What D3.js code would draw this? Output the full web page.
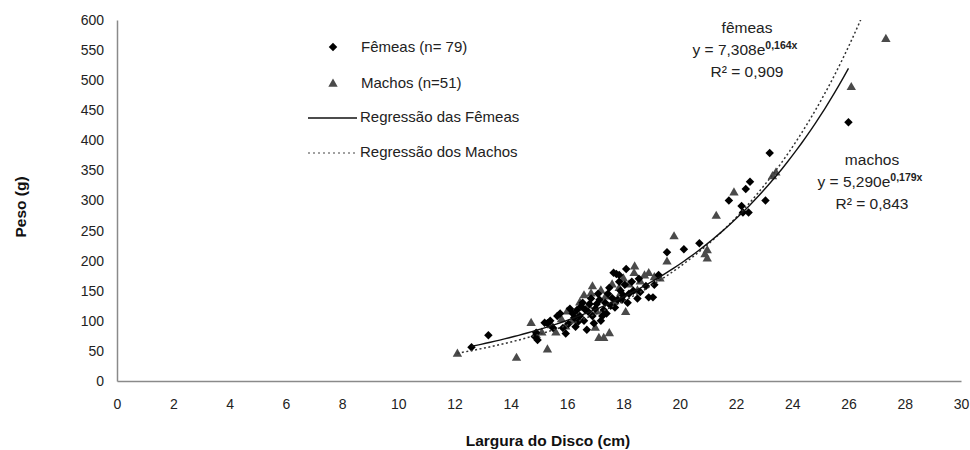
<!DOCTYPE html>
<html lang="pt">
<head>
<meta charset="utf-8">
<title>Peso x Largura do Disco</title>
<script src="https://cdn.jsdelivr.net/npm/d3@7"></script>
<style>
  body { margin: 0; background: #fff; }
  svg { font-family: "Liberation Sans", Arial, sans-serif; }
  .axis path { stroke: #8a8a8a; stroke-width: 1.5; }
  .axis text { font-size: 14px; fill: #222; }
</style>
</head>
<body>
<script>
// ticks
var xTicks = [0, 2, 4, 6, 8, 10, 12, 14, 16, 18, 20, 22, 24, 26, 28, 30];
var yTicks = [0, 50, 100, 150, 200, 250, 300, 350, 400, 450, 500, 550, 600];

// femeas: [largura (cm), peso (g)]
var femeas = [
  [12.6, 56], [13.2, 76], [14.85, 74], [14.95, 68], [15.2, 97], [15.3, 96], [15.4, 100],
  [15.65, 108], [15.75, 112], [15.95, 79], [16.05, 95], [16.2, 112], [16.25, 105], [16.35, 118],
  [16.4, 99], [16.5, 124], [16.55, 130], [16.6, 100], [16.7, 85], [16.75, 115], [16.85, 137],
  [16.9, 108], [17.0, 120], [17.05, 128], [17.15, 135], [17.2, 100], [17.3, 118], [17.4, 112],
  [17.45, 145], [17.55, 125], [17.6, 138], [17.65, 180], [17.75, 178], [17.8, 135], [17.85, 176],
  [17.9, 150], [17.95, 135], [18.05, 160], [18.1, 186], [18.2, 145], [18.3, 165], [18.5, 137],
  [18.55, 170], [18.9, 139], [19.05, 139], [19.1, 160], [19.25, 176], [19.55, 214], [20.15, 219],
  [20.7, 229], [21.75, 300], [22.2, 291], [22.25, 280], [22.35, 319], [22.45, 280], [22.5, 331],
  [23.05, 300], [23.2, 379], [26.0, 430], [15.85, 88], [16.1, 120], [16.3, 90], [16.45, 108],
  [16.65, 118], [16.95, 96], [17.1, 145], [17.35, 130], [17.5, 155], [17.7, 122], [18.0, 142],
  [18.15, 130], [18.35, 150], [17.25, 108], [16.8, 128], [15.5, 88], [18.6, 148], [18.8, 158],
  [14.9, 80], [17.85, 165]
];

// machos
var machos = [
  [12.1, 45], [14.2, 38], [14.72, 96], [15.1, 80], [15.3, 52], [15.6, 80], [15.95, 90],
  [16.6, 142], [16.9, 157], [17.0, 88], [17.13, 71], [17.3, 71], [17.5, 79], [17.37, 140],
  [17.85, 154], [18.08, 114], [18.4, 190], [18.38, 179], [18.9, 179], [19.55, 198], [19.8, 240],
  [20.98, 217], [20.98, 203], [21.3, 274], [21.93, 313], [23.42, 346], [26.1, 488], [27.33, 568],
  [16.2, 100], [16.45, 130], [16.75, 125], [17.2, 150], [17.6, 160], [17.7, 132], [18.0, 170],
  [18.2, 160], [18.6, 165], [19.1, 172], [16.0, 115], [15.8, 102], [17.9, 145], [18.5, 150],
  [19.3, 170], [20.9, 210], [16.3, 110], [17.05, 115], [15.45, 92], [18.75, 175], [23.3, 340],
  [16.85, 145], [14.9, 76]
];

// regressoes: y = a * e^(b x)
var regFemeas = { a: 7.308, b: 0.164, x0: 12.6, x1: 26.0 };
var regMachos = { a: 5.290, b: 0.179, x0: 12.1, x1: 27.33 };

var w = 970, h = 450;

var svg = d3.select("body").append("svg")
  .attr("width", w)
  .attr("height", h);

var x = d3.scaleLinear().domain([0, 30]).range([117, 961]);
var y = d3.scaleLinear().domain([0, 600]).range([381, 20]);

svg.append("clipPath").attr("id", "plot")
  .append("rect")
  .attr("x", x(0)).attr("y", y(600))
  .attr("width", x(30) - x(0)).attr("height", y(0) - y(600));

// axes
svg.append("g")
  .attr("class", "axis")
  .attr("transform", "translate(0," + y(0) + ")")
  .call(d3.axisBottom(x).tickValues(xTicks).tickSize(0).tickPadding(18));

svg.append("g")
  .attr("class", "axis")
  .attr("transform", "translate(" + x(0) + ",0)")
  .call(d3.axisLeft(y).tickValues(yTicks).tickSize(0).tickPadding(13));

// axis titles
svg.append("text")
  .attr("x", 548).attr("y", 446)
  .attr("text-anchor", "middle")
  .style("font-size", "15.5px").style("font-weight", "bold").style("fill", "#111")
  .text("Largura do Disco (cm)");

svg.append("text")
  .attr("transform", "translate(26,207) rotate(-90)")
  .attr("text-anchor", "middle")
  .style("font-size", "15.5px").style("font-weight", "bold").style("fill", "#111")
  .text("Peso (g)");

// regression curves
var curve = d3.line()
  .x(function(d) { return x(d[0]); })
  .y(function(d) { return y(d[1]); });

function regPoints(r) {
  var n = 80, pts = [];
  for (var i = 0; i <= n; i++) {
    var xv = r.x0 + (r.x1 - r.x0) * i / n;
    pts.push([xv, r.a * Math.exp(r.b * xv)]);
  }
  return pts;
}

// markers: square turned 45 deg = diamond
var diamond = d3.symbol().type(d3.symbolSquare).size(36);
var triangle = d3.symbol().type(d3.symbolTriangle).size(38);

function placeDiamond(d) { return "translate(" + x(d[0]) + "," + y(d[1]) + ") rotate(45)"; }
function placeTriangle(d) { return "translate(" + x(d[0]) + "," + y(d[1]) + ")"; }

svg.append("g").selectAll("path")
  .data(machos)
  .enter()
  .append("path")
  .attr("d", triangle)
  .attr("transform", placeTriangle)
  .attr("fill", "#4a4a4a");

svg.append("g").selectAll("path")
  .data(femeas)
  .enter()
  .append("path")
  .attr("d", diamond)
  .attr("transform", placeDiamond)
  .attr("fill", "#000");

var curves = svg.append("g").attr("clip-path", "url(#plot)");

curves.append("path")
  .attr("d", curve(regPoints(regMachos)))
  .attr("fill", "none")
  .attr("stroke", "#333")
  .attr("stroke-width", 1.5)
  .attr("stroke-dasharray", "2,2.5");

curves.append("path")
  .attr("d", curve(regPoints(regFemeas)))
  .attr("fill", "none")
  .attr("stroke", "#111")
  .attr("stroke-width", 1.4);

// legend
var lg = svg.append("g").style("font-size", "15px").style("fill", "#222");

lg.append("path").attr("d", diamond).attr("transform", "translate(333,47) rotate(45)").attr("fill", "#000");
lg.append("text").attr("x", 361).attr("y", 52).text("Fêmeas (n= 79)");

lg.append("path").attr("d", triangle).attr("transform", "translate(333,84)").attr("fill", "#4a4a4a");
lg.append("text").attr("x", 361).attr("y", 88).text("Machos (n=51)");

lg.append("line").attr("x1", 308).attr("x2", 357).attr("y1", 118).attr("y2", 118)
  .attr("stroke", "#111").attr("stroke-width", 1.3);
lg.append("text").attr("x", 360).attr("y", 122).text("Regressão das Fêmeas");

lg.append("line").attr("x1", 308).attr("x2", 357).attr("y1", 153).attr("y2", 153)
  .attr("stroke", "#444").attr("stroke-width", 1.2).attr("stroke-dasharray", "2,3");
lg.append("text").attr("x", 360).attr("y", 157).text("Regressão dos Machos");

// equation labels
function eqLabel(cx, cy, name, a, b, r2) {
  var g = svg.append("g").style("font-size", "15.5px").style("fill", "#222")
    .attr("text-anchor", "middle");
  g.append("text").attr("x", cx + 2).attr("y", cy).text(name);
  var t = g.append("text").attr("x", cx).attr("y", cy + 22);
  t.append("tspan").text("y = " + a + "e");
  t.append("tspan").attr("dy", -6).style("font-size", "10.5px").style("font-weight", "bold").text(b + "x");
  g.append("text").attr("x", cx + 2).attr("y", cy + 44).text("R² = " + r2);
}

eqLabel(745, 33, "fêmeas", "7,308", "0,164", "0,909");
eqLabel(870, 165, "machos", "5,290", "0,179", "0,843");
</script>
</body>
</html>
